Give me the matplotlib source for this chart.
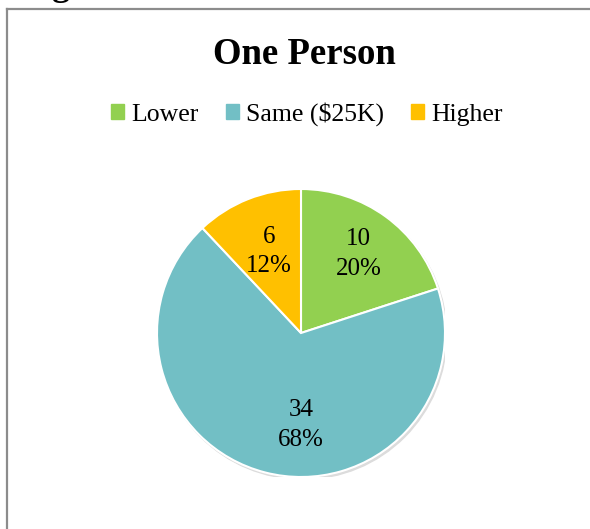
import matplotlib
matplotlib.use("Agg")
import matplotlib.pyplot as plt
import numpy as np

# data
categories = ["Lower", "Same ($25K)", "Higher"]
counts = [10, 34, 6]
colors = ["#92D050", "#72BFC5", "#FFC000"]
title = "One Person"

plt.rcParams['font.family'] = ['Liberation Serif', 'DejaVu Serif']

fig = plt.figure(figsize=(5.9, 5.29), dpi=100)

# chart frame (only left and top edges are inside the crop)
fig.add_artist(plt.Line2D([6.5 / 590, 6.5 / 590], [0, 1 - 8.5 / 529],
                          color="#8c8c8c", linewidth=1.6))
fig.add_artist(plt.Line2D([6.5 / 590, 1], [1 - 8.5 / 529, 1 - 8.5 / 529],
                          color="#8c8c8c", linewidth=1.6))

# cut-off text above the frame
fig.text(61 / 590, 1 + 5 / 529, "g", fontsize=26, fontweight='bold',
         ha='center', va='baseline')

fig.text(304 / 590, 1 - 55 / 529, title, fontsize=26.5, fontweight='bold',
         ha='center', va='center')

ax = fig.add_axes([(301 - 144) / 590, (529 - 333 - 144) / 529,
                   288 / 590, 288 / 529])
ax.axis('off')

# soft shadow
ax.add_artist(plt.Circle((0.012, -0.016), 1.0, color="#dcdcdc", zorder=0))

wedges, _ = ax.pie(counts, colors=colors, startangle=90, counterclock=False,
                   radius=1.0, wedgeprops=dict(edgecolor='white', linewidth=1.5))
ax.set_xlim(-1.0, 1.0)
ax.set_ylim(-1.0, 1.0)
ax.set_aspect('equal')

total = sum(counts)
label_r = [0.68, 0.64, 0.61]
label_ang = {1: -90}  # Excel best-fit puts the big slice label straight down
for i, w in enumerate(wedges):
    ang = label_ang.get(i, (w.theta1 + w.theta2) / 2)
    x = label_r[i] * np.cos(np.deg2rad(ang))
    y = label_r[i] * np.sin(np.deg2rad(ang))
    pct = round(100 * counts[i] / total)
    ax.text(x, y, f"{counts[i]}\n{pct}%", ha='center', va='center',
            fontsize=18, linespacing=1.45)

# legend
handles = [plt.Rectangle((0, 0), 1, 1, color=c) for c in colors]
fig.legend(handles, categories, loc='center', bbox_to_anchor=(307 / 590, 1 - 114 / 529),
           ncol=3, frameon=False, fontsize=18.5, handlelength=0.5, handleheight=0.5,
           handletextpad=0.3, columnspacing=1.05)

fig.savefig("out.png", dpi=100)
